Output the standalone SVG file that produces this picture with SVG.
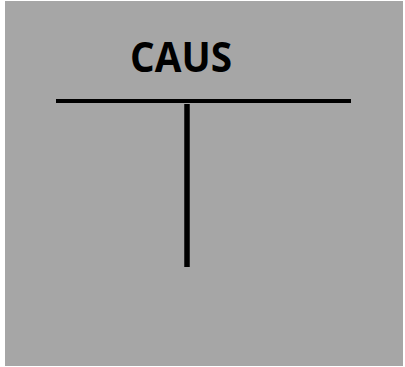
<svg xmlns="http://www.w3.org/2000/svg" width="405" height="367" viewBox="0 0 405 367">
<style>
.ln{stroke:#000;fill:none}
.t{font-family:"Open Sans","Liberation Sans",Arial,sans-serif;font-weight:bold;fill:#000}
</style>
<rect x="0" y="0" width="405" height="367" fill="#fff"/>
<rect id="bg" x="5" y="1" width="398" height="365" fill="#a6a6a6"/>
<g id="title"><text class="t" x="130" y="72" font-size="41" textLength="102" lengthAdjust="spacingAndGlyphs">CAUS</text></g>
<g id="connectors">
<line class="ln" x1="56" y1="101" x2="351" y2="101" stroke-width="4"/>
<line class="ln" x1="187" y1="104" x2="187" y2="267" stroke-width="5.5"/>
</g>
</svg>
